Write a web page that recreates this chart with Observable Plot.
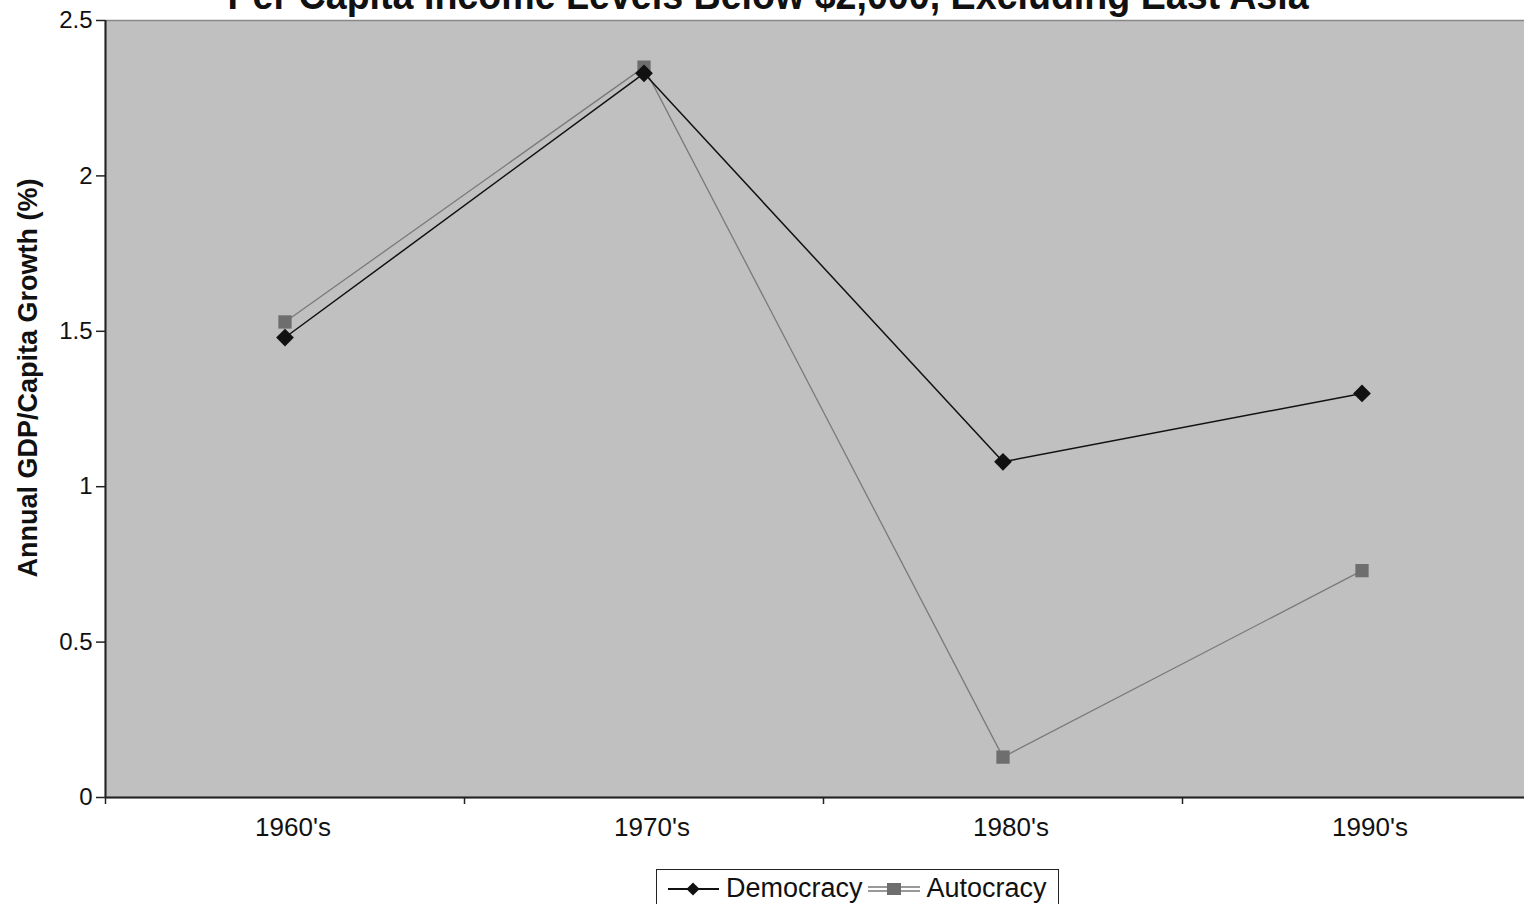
<!DOCTYPE html>
<html>
<head>
<meta charset="utf-8">
<script src="https://cdn.jsdelivr.net/npm/d3@7"></script>
<script src="https://cdn.jsdelivr.net/npm/@observablehq/plot@0.6"></script>
<style>
  html, body { margin: 0; padding: 0; background: #fff; overflow: hidden; width: 1524px; height: 904px; }
  #wrap { position: relative; width: 1524px; height: 904px; overflow: hidden; font-family: "Liberation Sans", Arial, sans-serif; }
  #title { position: absolute; left: 0; width: 1524px; top: -25px; text-align: center; font-weight: bold; font-size: 40px; line-height: 40px; color: #111; white-space: nowrap; }
  #title span { display: inline-block; transform: scaleX(0.94); transform-origin: center; position: relative; left: 6px; }
  #chart { position: absolute; left: 0; top: 0; width: 1541px; }
  #chart svg { max-width: none !important; }
  #legend { position: absolute; left: 656px; top: 869px; width: 403px; height: 40px; border: 1.5px solid #222; box-sizing: border-box; display: flex; align-items: flex-start; font-size: 27px; color: #111; padding-top: 0px; white-space: nowrap; }
  #legend .item { display: flex; align-items: center; }
  #legend svg { display: block; }
</style>
</head>
<body>
<div id="wrap">
  <div id="title"><span>Per Capita Income Levels Below $2,000, Excluding East Asia</span></div>
  <div id="chart"></div>
  <div id="legend"></div>
</div>
<script>
const categories = ["1960's", "1970's", "1980's", "1990's"];
const democracy = [1.48, 2.33, 1.08, 1.30];
const autocracy = [1.53, 2.35, 0.13, 0.73];
const yTicks = [0, 0.5, 1, 1.5, 2, 2.5];
const yTickLabels = ["0", "0.5", "1", "1.5", "2", "2.5"];
const seriesNames = ["Democracy", "Autocracy"];
const yTitle = "Annual GDP/Capita Growth (%)";

const demData = categories.map((c, i) => ({cat: c, idx: i + 0.5, value: democracy[i]}));
const autData = categories.map((c, i) => ({cat: c, idx: i + 0.5, value: autocracy[i]}));
const boundaries = d3.range(categories.length + 1);

const chart = Plot.plot({
  width: 1541,
  height: 860,
  marginLeft: 105,
  marginRight: 0,
  marginTop: 20,
  marginBottom: 63,
  style: {fontFamily: "'Liberation Sans', Arial, sans-serif", fontSize: "24px", color: "#111", background: "transparent", overflow: "visible", maxWidth: "none"},
  x: {domain: [0, categories.length], axis: null},
  y: {domain: [0, 2.5], axis: null},
  marks: [
    Plot.frame({fill: "#c0c0c0", stroke: "#888", strokeWidth: 1.5}),
    Plot.ruleY([0], {stroke: "#222", strokeWidth: 2}),
    Plot.ruleX([0], {stroke: "#222", strokeWidth: 2}),
    Plot.axisY(yTicks, {
      tickSize: 9, tickPadding: 4, stroke: "#222", strokeWidth: 1.5,
      tickFormat: (d) => yTickLabels[yTicks.indexOf(d)], fontSize: 24, label: null
    }),
    Plot.axisX(boundaries, {
      tickSize: 7, tickFormat: () => "", stroke: "#222", strokeWidth: 1.5, label: null
    }),
    Plot.text(demData, {x: "idx", y: 0, text: "cat", dy: 30, dx: 8, fontSize: 26, fill: "#111"}),
    Plot.line(autData, {x: "idx", y: "value", stroke: "#7a7a7a", strokeWidth: 1.3}),
    Plot.line(demData, {x: "idx", y: "value", stroke: "#111", strokeWidth: 1.5}),
    Plot.dot(autData, {x: "idx", y: "value", symbol: "square", r: 7.5, fill: "#6e6e6e", stroke: "none"}),
    Plot.dot(demData, {x: "idx", y: "value", symbol: "diamond2", r: 8, fill: "#111", stroke: "none"}),
    Plot.text([yTitle], {
      frameAnchor: "left", y: () => 1.35, dx: -77, rotate: -90, textAnchor: "middle",
      fontSize: 27, fontWeight: "bold", fill: "#111"
    })
  ]
});
document.getElementById("chart").appendChild(chart);

// legend
const legend = document.getElementById("legend");
function swatch(kind) {
  const s = d3.create("svg").attr("width", 54).attr("height", 36);
  if (kind === 0) {
    s.append("line").attr("x1", 2).attr("x2", 53).attr("y1", 19).attr("y2", 19).attr("stroke", "#111").attr("stroke-width", 1.8);
    s.append("path").attr("d", d3.symbol(d3.symbolDiamond2, 110)()).attr("transform", "translate(27,19)").attr("fill", "#111");
  } else {
    s.append("line").attr("x1", 1).attr("x2", 53).attr("y1", 17).attr("y2", 17).attr("stroke", "#777").attr("stroke-width", 1.5);
    s.append("line").attr("x1", 1).attr("x2", 53).attr("y1", 21).attr("y2", 21).attr("stroke", "#777").attr("stroke-width", 1.5);
    s.append("rect").attr("x", 20).attr("y", 13).attr("width", 14).attr("height", 12).attr("fill", "#6e6e6e");
  }
  return s.node();
}
seriesNames.forEach((name, i) => {
  const item = document.createElement("div");
  item.className = "item";
  item.style.marginLeft = i === 0 ? "9px" : "4px";
  item.appendChild(swatch(i));
  const t = document.createElement("span");
  t.textContent = name;
  t.style.marginLeft = "6px";
  item.appendChild(t);
  legend.appendChild(item);
});
</script>
</body>
</html>
